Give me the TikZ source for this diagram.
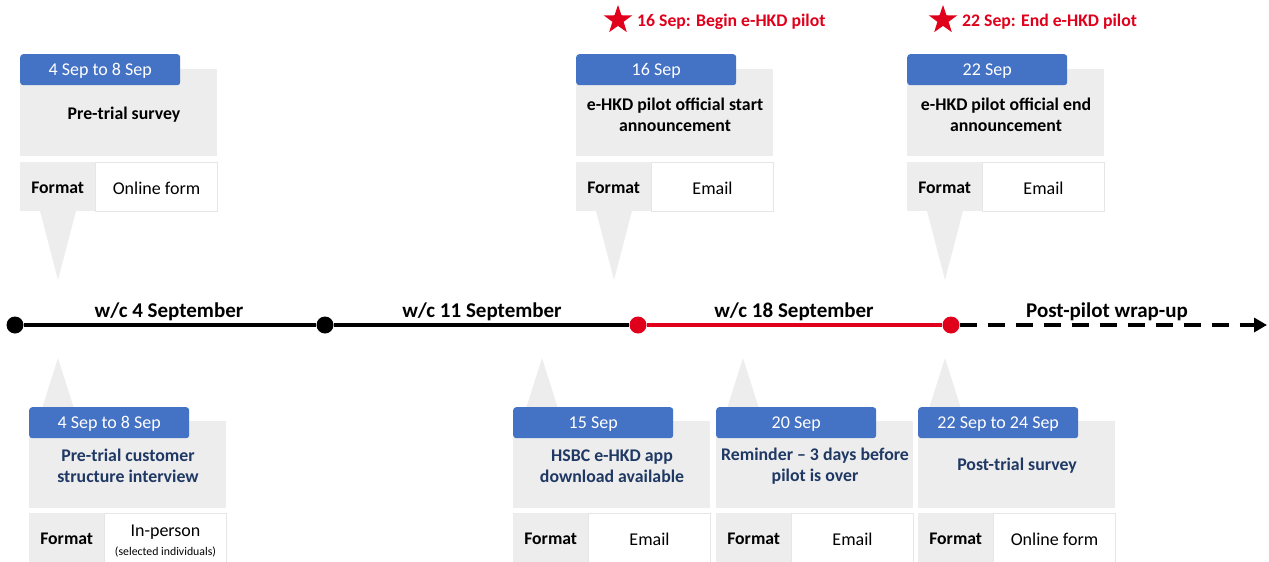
\documentclass[tikz,border=0pt]{standalone}
\usepackage{fontspec}
\setmainfont{Carlito}
\usetikzlibrary{shapes.geometric,arrows.meta}

\definecolor{tabblue}{HTML}{4472C4}
\definecolor{cardgray}{HTML}{EDEDED}
\definecolor{rowline}{HTML}{E6E6E6}
\definecolor{pilotred}{HTML}{E0001B}
\definecolor{navy}{HTML}{1F3864}

\tikzset{
  datetab/.style={fill=tabblue, rounded corners=3pt, text=white, inner sep=0pt,
    minimum width=160pt, minimum height=31pt, anchor=north west,
    font=\fontsize{18}{20}\selectfont},
  panel/.style={fill=cardgray, inner sep=0pt, minimum width=197pt,
    minimum height=87pt, anchor=north west},
  pointer/.style={fill=cardgray},
  cardtitle/.style={align=center, inner sep=0pt,
    font=\bfseries\fontsize{17.8}{21.5}\selectfont},
  fmtkey/.style={fill=cardgray, inner sep=0pt, minimum width=75pt,
    minimum height=49pt, anchor=north west, font=\bfseries\fontsize{17.7}{20}\selectfont},
  fmtval/.style={fill=white, draw=rowline, line width=1pt, inner sep=0pt,
    minimum width=122pt, minimum height=49pt, anchor=north west, align=center,
    font=\fontsize{18}{18}\selectfont},
  dot/.style={circle, inner sep=0pt, minimum size=17pt, fill=black},
  reddot/.style={dot, fill=pilotred},
  track/.style={line width=3.5pt},
  weeklabel/.style={font=\bfseries\fontsize{21}{24}\selectfont},
  milestone/.style={text=pilotred, anchor=west, inner sep=0pt,
    font=\bfseries\fontsize{17.7}{20}\selectfont},
  startag/.style={star, star points=5, star point ratio=2.55, fill=pilotred,
    inner sep=0pt, minimum size=30pt},
}

% lower a text line inside its box without changing the box size
\newcommand\low[1]{\raisebox{-1.5pt}[\height][\depth]{#1}}

% card above the timeline: #1 name, #2 left x, #3 date, #4 title, #5 format
\newcommand\upcard[5]{%
  \begin{scope}[shift={(#2,54)}]
    \fill[pointer] (20,157) -- (38,226) -- (56,157) -- cycle;
    \node[panel] (#1-box) at (0,15) {};
    \node[datetab] (#1-date) at (0,0) {\low{#3}};
    \node[cardtitle] (#1-title) at (99,61) {#4};
    \node[fmtkey] (#1-key) at (0,108) {\low{Format}};
    \node[fmtval] (#1-val) at (75,108) {\low{#5}};
  \end{scope}}

% card below the timeline: #1 name, #2 left x, #3 date, #4 title, #5 format, #6 pointer x
\newcommand\downcard[6]{%
  \begin{scope}[shift={(#2,407)}]
    \fill[pointer] (#6-20,14) -- (#6,-49) -- (#6+20,14) -- cycle;
    \node[panel] (#1-box) at (0,14) {};
    \node[datetab] (#1-date) at (0,0) {\low{#3}};
    \node[cardtitle, text=navy] (#1-title) at (99,59) {#4};
    \node[fmtkey] (#1-key) at (0,106) {\low{Format}};
    \node[fmtval] (#1-val) at (75,106) {#5};
  \end{scope}}

\begin{document}
\begin{tikzpicture}[x=1pt, y=-1pt]
  \useasboundingbox (0,0) rectangle (1269,562);

  % timeline
  \node[dot] (d1) at (15,325) {};
  \node[dot] (d2) at (325,325) {};
  \node[reddot] (d3) at (638,325) {};
  \node[reddot] (d4) at (951,325) {};
  \coordinate (tend) at (1267,325);
  \draw[track] (d1) -- (d2);
  \draw[track] (d2) -- (d3);
  \draw[track, pilotred] (d3) -- (d4);
  \draw[track, dash pattern=on 17pt off 11pt,
        -{Triangle[length=13pt,width=14pt]}] (d4) -- (tend);

  \node[weeklabel] (w1) at (169,312) {w/c 4 September};
  \node[weeklabel] (w2) at (482,312) {w/c 11 September};
  \node[weeklabel] (w3) at (794,312) {w/c 18 September};
  \node[weeklabel] (w4) at (1107,312) {Post-pilot wrap-up};

  % pilot milestones
  \node[startag] (s1) at (618,20) {};
  \node[milestone] (m1) at (637,21.5) {16 Sep: Begin e-HKD pilot};
  \node[startag] (s2) at (943,20) {};
  \node[milestone] (m2) at (962,21.5) {22 Sep: End e-HKD pilot};

  % events above the line
  \upcard{survey}{20}{4 Sep to 8 Sep}{\hspace*{10pt}Pre-trial survey}{Online form}
  \upcard{start}{576}{16 Sep}{e-HKD pilot official start\\announcement}{Email}
  \upcard{finish}{907}{22 Sep}{e-HKD pilot official end\\announcement}{Email}

  % events below the line
  \downcard{interview}{29}{4 Sep to 8 Sep}{Pre-trial customer\\structure interview}
    {\raisebox{-3pt}[\height][\depth]{In-person}\\[1pt]%
     {\fontsize{11.8}{13}\selectfont\raisebox{-3pt}[\height][\depth]{(selected individuals)}}}{29}
  \downcard{app}{513}{15 Sep}{HSBC e-HKD app\\download available}{\low{Email}}{29}
  \downcard{reminder}{716}{20 Sep}{Reminder -- 3 days before\\pilot is over}{\low{Email}}{27}
  \downcard{post}{918}{22 Sep to 24 Sep}{Post-trial survey}{\low{Online form}}{27}
\end{tikzpicture}
\end{document}
